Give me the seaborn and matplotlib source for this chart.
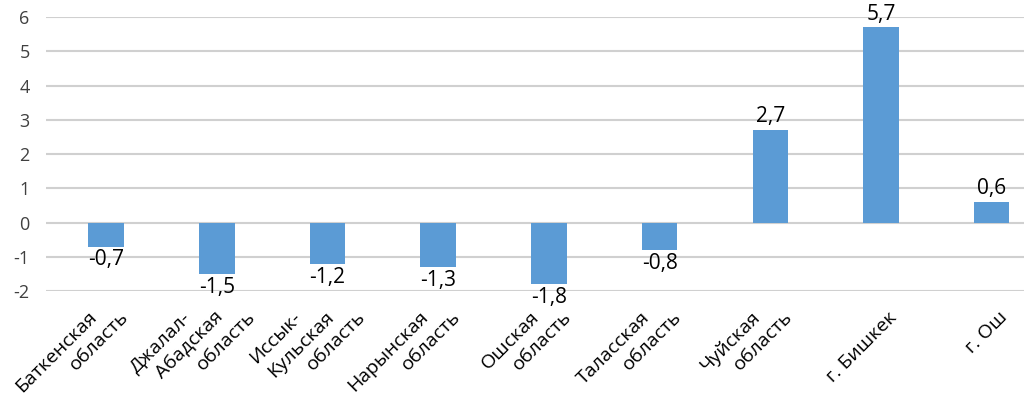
import matplotlib
matplotlib.use("Agg")
import matplotlib.pyplot as plt
import matplotlib.transforms as mtransforms
import seaborn as sns
import pandas as pd

# Данные
regions = [
    "Баткенская\nобласть",
    "Джалал-\nАбадская\nобласть",
    "Иссык-\nКульская\nобласть",
    "Нарынская\nобласть",
    "Ошская\nобласть",
    "Таласская\nобласть",
    "Чуйская\nобласть",
    "г. Бишкек",
    "г. Ош",
]
values = [-0.7, -1.5, -1.2, -1.3, -1.8, -0.8, 2.7, 5.7, 0.6]
yticks = [-2, -1, 0, 1, 2, 3, 4, 5, 6]

df = pd.DataFrame({"region": regions, "value": values})

sns.set_style("white")
plt.rcParams["font.family"] = ["Open Sans", "DejaVu Sans"]

fig, ax = plt.subplots(figsize=(10.29, 4), dpi=100)
fig.subplots_adjust(left=0.045, right=0.995, top=0.957, bottom=0.272)

sns.barplot(data=df, x="region", y="value", color="#5B9BD5",
            width=0.32, saturation=1, linewidth=0, ax=ax)

# подписи значений
labels = [f"{v:.1f}".replace(".", ",") for v in values]
ax.bar_label(ax.containers[0], labels=labels, fontsize=15, padding=2,
             color="black")

ax.set_ylim(-2, 6)
ax.set_yticks(yticks)
ax.set_yticklabels([str(t) for t in yticks], fontsize=13, color="#404040")
ax.set_xlim(-0.54, 8.29)
ax.yaxis.grid(True, color="#D0D0D0", linewidth=1.5)
ax.set_axisbelow(True)
for s in ax.spines.values():
    s.set_visible(False)
ax.tick_params(axis="both", length=0)
ax.tick_params(axis="y", pad=12)
ax.set_xlabel("")
ax.set_ylabel("")

# подписи категорий: каждая строка отдельно, повернуто на 45°
ax.set_xticks(range(len(regions)))
ax.set_xticklabels([])
base = mtransforms.blended_transform_factory(ax.transData, ax.transAxes)
for i, name in enumerate(regions):
    lines = name.split("\n")
    n = len(lines)
    for k, line in enumerate(lines):
        if n == 1:
            dx = 7
        else:
            dx = -3 + 32 * (k - (n - 1) / 2)
        tr = base + mtransforms.ScaledTranslation(dx / 100, -17 / 100,
                                                  fig.dpi_scale_trans)
        ax.text(i, 0, line, transform=tr, rotation=45,
                rotation_mode="anchor", ha="right", va="top",
                fontsize=14, color="black")

plt.savefig("out.png", dpi=100)
